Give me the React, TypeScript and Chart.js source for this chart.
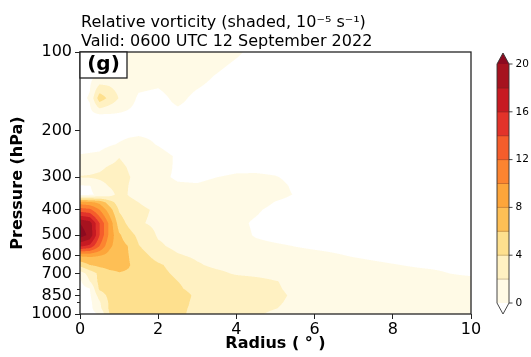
import React, { useEffect, useRef } from 'react';
import { Chart, registerables } from 'chart.js';

Chart.register(...registerables);

// ---------- data ----------
const RADII = [0, 0.25, 0.5, 0.75, 1, 1.25, 1.5, 2, 2.5, 3, 3.5, 4, 4.5, 5, 5.5, 6, 7, 8, 9, 10];
const PRESSURES = [100, 125, 150, 175, 200, 225, 250, 275, 300, 325, 350, 375, 400, 450, 500, 550, 600, 650, 700, 750, 800, 850, 900, 950, 1000];
// relative vorticity (1e-5 s^-1), one row per pressure level, one column per radius
const VORTICITY = [
  [-1, -1, -0.8, -0.5, -0.2, 0.5, 1, 1, 1, 1, 1, 0.3, -0.6, -1, -1, -1, -1, -1, -1, -1], // 100
  [-1, -0.4, 0.5, 1, 1, 1, 0.8, 0.6, 1, 0.6, -0.2, -1, -1, -1, -1, -1, -1, -1, -1, -1], // 125
  [-0.5, 0.2, 5.2, 3.5, 1.9, 0.8, -0.3, -0.6, 0.5, -0.5, -1, -1, -1, -1, -1, -1, -1, -1, -1, -1], // 150
  [-1, -0.6, -0.5, -0.4, -0.4, -0.5, -0.7, -0.8, -0.6, -0.8, -1, -1, -1, -1, -1, -1, -1, -1, -1, -1], // 175
  [-1, -0.9, -0.8, -0.6, -0.5, -0.4, -0.3, -0.3, -0.8, -1, -1, -1, -1, -1, -1, -1, -1, -1, -1, -1], // 200
  [-0.7, -0.6, -0.5, -0.2, 0.1, 0.4, 0.5, -0.1, -0.8, -1, -1, -1, -1, -1, -1, -1, -1, -1, -1, -1], // 225
  [0.15, 0.25, 0.35, 1.0, 1.9, 1.2, 1.0, 0.6, -0.2, -1, -1, -1, -1, -1, -1, -1, -1, -1, -1, -1], // 250
  [1.2, 1.3, 1.6, 2.2, 2.6, 1.8, 1.3, 0.8, -0.3, -0.8, -0.8, -0.5, -0.5, -0.6, -0.9, -1, -1, -1, -1, -1], // 275
  [2.1, 2.2, 2.4, 2.8, 3.0, 2.1, 1.4, 0.5, -0.3, -0.4, -0.02, 0.3, 0.35, 0.1, -0.5, -1, -1, -1, -1, -1], // 300
  [-0.2, -0.1, 1.1, 2.1, 2.8, 1.95, 1.4, 0.9, 0.3, 0.2, 0.6, 0.8, 0.9, 0.6, -0.3, -1, -1, -1, -1, -1], // 325
  [-0.5, -0.3, 0.4, 1.2, 2.6, 1.9, 1.5, 1.2, 1.0, 0.9, 0.9, 1.0, 0.9, 0.6, -0.1, -0.8, -1, -1, -1, -1], // 350
  [9, 8.5, 7.5, 5, 3.0, 2.4, 2.0, 1.2, 0.8, 0.7, 0.8, 0.9, 0.9, -0.1, -0.6, -1, -1, -1, -1, -1], // 375
  [13, 12.5, 10, 7, 3.8, 2.8, 2.4, 1.7, 1.1, 0.9, 0.9, 0.7, 0.3, -0.6, -1, -1, -1, -1, -1, -1], // 400
  [20, 19, 14, 9.5, 5, 3.5, 2.2, 1.6, 1.2, 1.0, 0.8, 0.5, -0.3, -1, -1, -1, -1, -1, -1, -1], // 450
  [21, 19.5, 14, 9.5, 6.3, 4.8, 3.5, 1.8, 1.5, 1.3, 1.1, 0.8, -0.2, -0.7, -1, -1, -1, -1, -1, -1], // 500
  [16.5, 15.5, 12, 8.5, 6.8, 5.9, 4.1, 2.3, 1.5, 1.3, 1.1, 0.9, 0.6, 0.3, -0.05, -0.3, -0.6, -0.8, -0.9, -1], // 550
  [8.2, 8.3, 8.0, 7.2, 6.6, 6.0, 5.0, 3.2, 2.2, 1.7, 1.5, 1.3, 1.2, 1.0, 0.7, 0.5, -0.1, -0.6, -0.8, -0.9], // 600
  [4.6, 6.0, 6.5, 6.7, 6.6, 6.1, 5.4, 4.3, 3.2, 2.2, 1.6, 1.4, 1.3, 1.2, 1.1, 0.9, 0.6, 0.1, -0.4, -0.7], // 650
  [1.0, 2.8, 4.5, 5.5, 5.9, 5.8, 5.5, 4.6, 3.6, 2.9, 2.4, 1.8, 1.6, 1.4, 1.3, 1.2, 1.0, 0.7, 0.4, -0.5], // 700
  [-0.3, 2.0, 4.6, 5.3, 5.6, 5.7, 5.6, 5.0, 4.0, 3.5, 3.1, 2.8, 2.5, 2.05, 1.7, 1.5, 1.3, 1.2, 1.1, 1.0], // 750
  [-0.8, -0.05, 4.4, 5.0, 5.3, 5.5, 5.4, 5.0, 4.2, 3.5, 3.1, 2.8, 2.6, 2.15, 1.7, 1.5, 1.25, 1.15, 1.05, 1.0], // 800
  [-1, -0.3, 2.8, 4.6, 5.1, 5.3, 5.4, 5.2, 4.7, 3.7, 3.2, 2.9, 2.6, 2.3, 1.8, 1.5, 1.2, 1.1, 1.0, 0.95], // 850
  [-1, -0.5, 1.8, 4.3, 4.9, 5.2, 5.3, 5.2, 4.6, 3.6, 3.1, 2.8, 2.5, 2.2, 1.7, 1.4, 1.2, 1.1, 1.0, 0.9], // 900
  [-1, -0.6, 1.5, 4.3, 4.8, 5.0, 5.1, 5.0, 4.3, 3.7, 3.1, 2.7, 2.4, 2.05, 1.6, 1.3, 1.1, 1.0, 0.9, 0.85], // 950
  [-1, -0.7, 0.2, 3.95, 4.6, 4.8, 4.9, 4.7, 4.3, 3.6, 3.0, 2.6, 2.2, 1.7, 1.4, 1.2, 1.0, 0.9, 0.8, 0.7], // 1000
];

const LEVELS = [0, 2, 4, 6, 8, 10, 12, 14, 16, 18, 20];
const LEVEL_COLORS = ['#fffae6', '#fff1c2', '#fee08e', '#febf55', '#fda53a', '#fc8430', '#f55d2b', '#e2332a', '#c71a22', '#a6131f'];
const OVER_COLOR = '#8c0a1f';
const X_TICKS = [0, 2, 4, 6, 8, 10];
const Y_TICKS = [100, 200, 300, 400, 500, 600, 700, 850, 1000];
const Y_MINOR_TICKS = [800, 900];
const CBAR_TICKS = [0, 4, 8, 12, 16, 20];
const TITLE_LINES = ['Relative vorticity (shaded, 10\u207B\u2075 s\u207B\u00B9)', 'Valid: 0600 UTC 12 September 2022'];
const PANEL_LABEL = '(g)';
const X_TITLE = 'Radius ( \u00B0 )';
const Y_TITLE = 'Pressure (hPa)';

const FONT = "'DejaVu Sans', sans-serif";

function hexToRgb(h: string): number[] {
  const n = parseInt(h.slice(1), 16);
  return [(n >> 16) & 255, (n >> 8) & 255, n & 255];
}
const LEVEL_RGB = LEVEL_COLORS.map(hexToRgb);
const OVER_RGB = hexToRgb(OVER_COLOR);

function colorOf(v: number): number[] {
  if (v < LEVELS[0]) return [255, 255, 255];
  for (let k = 0; k < LEVELS.length - 1; k++) {
    if (v < LEVELS[k + 1]) return LEVEL_RGB[k];
  }
  return OVER_RGB;
}

function locate(arr: number[], v: number): [number, number] {
  let i = 0;
  while (i < arr.length - 2 && arr[i + 1] < v) i++;
  let t = (v - arr[i]) / (arr[i + 1] - arr[i]);
  t = Math.max(0, Math.min(1, t));
  return [i, t];
}

const shadingPlugin = {
  id: 'shading',
  beforeDatasetsDraw(chart: any) {
    const { ctx, chartArea, scales } = chart;
    const xs = scales.x;
    const ys = scales.y;
    const left = Math.round(chartArea.left);
    const top = Math.round(chartArea.top);
    const w = Math.round(chartArea.right) - left;
    const h = Math.round(chartArea.bottom) - top;
    const S = 3;
    const colLoc: [number, number][] = [];
    for (let c = 0; c < w * S; c++) {
      const r = xs.getValueForPixel(left + (c + 0.5) / S);
      colLoc.push(locate(RADII, r));
    }
    const rowLoc: [number, number][] = [];
    for (let q = 0; q < h * S; q++) {
      const p = ys.getValueForPixel(top + (q + 0.5) / S);
      rowLoc.push(locate(PRESSURES, p));
    }
    const img = ctx.createImageData(w, h);
    const d = img.data;
    for (let py = 0; py < h; py++) {
      for (let px = 0; px < w; px++) {
        let R = 0, G = 0, B = 0;
        for (let sy = 0; sy < S; sy++) {
          const [j, tp] = rowLoc[py * S + sy];
          const row0 = VORTICITY[j];
          const row1 = VORTICITY[j + 1];
          for (let sx = 0; sx < S; sx++) {
            const [i, tr] = colLoc[px * S + sx];
            const a = row0[i] * (1 - tr) + row0[i + 1] * tr;
            const b = row1[i] * (1 - tr) + row1[i + 1] * tr;
            const v = a * (1 - tp) + b * tp;
            const col = colorOf(v);
            R += col[0]; G += col[1]; B += col[2];
          }
        }
        const n = S * S;
        const o = (py * w + px) * 4;
        d[o] = R / n; d[o + 1] = G / n; d[o + 2] = B / n; d[o + 3] = 255;
      }
    }
    ctx.putImageData(img, left, top);
  },
  afterDraw(chart: any) {
    const { ctx, chartArea, scales } = chart;
    const { left, top, right, bottom } = chartArea;
    ctx.save();
    // minor ticks on the pressure axis
    ctx.strokeStyle = '#222';
    ctx.lineWidth = 1;
    Y_MINOR_TICKS.forEach((v) => {
      const y = Math.round(scales.y.getPixelForValue(v)) + 0.5;
      ctx.beginPath();
      ctx.moveTo(left - 3, y);
      ctx.lineTo(left, y);
      ctx.stroke();
    });
    // frame
    ctx.strokeStyle = '#262626';
    ctx.lineWidth = 1.3;
    ctx.strokeRect(left, top, right - left, bottom - top);

    // titles
    ctx.fillStyle = '#000';
    ctx.font = `16px ${FONT}`;
    ctx.textAlign = 'left';
    ctx.textBaseline = 'alphabetic';
    ctx.fillText(TITLE_LINES[0], left + 1, 27);
    ctx.fillText(TITLE_LINES[1], left + 1, 46);

    // panel label
    ctx.fillStyle = '#fff';
    ctx.fillRect(left, top, 47, 26);
    ctx.strokeStyle = '#222';
    ctx.lineWidth = 1.3;
    ctx.strokeRect(left, top, 47, 26);
    ctx.fillStyle = '#000';
    ctx.font = `bold 20px ${FONT}`;
    ctx.textAlign = 'center';
    ctx.textBaseline = 'middle';
    ctx.fillText(PANEL_LABEL, left + 23.5, top + 13);

    // colour bar
    const cx0 = right + 26;
    const cx1 = right + 38;
    const cyTop = top + 12;
    const cyBot = bottom - 11;
    const tri = 11;
    const nb = LEVELS.length - 1;
    const bh = (cyBot - cyTop) / nb;
    for (let k = 0; k < nb; k++) {
      const y1 = cyBot - (k + 1) * bh;
      ctx.fillStyle = LEVEL_COLORS[k];
      ctx.fillRect(cx0, y1, cx1 - cx0, bh + 0.5);
    }
    ctx.fillStyle = OVER_COLOR;
    ctx.beginPath();
    ctx.moveTo(cx0, cyTop);
    ctx.lineTo((cx0 + cx1) / 2, cyTop - tri);
    ctx.lineTo(cx1, cyTop);
    ctx.closePath();
    ctx.fill();
    ctx.fillStyle = '#fff';
    ctx.beginPath();
    ctx.moveTo(cx0, cyBot);
    ctx.lineTo((cx0 + cx1) / 2, cyBot + tri);
    ctx.lineTo(cx1, cyBot);
    ctx.closePath();
    ctx.fill();
    // band separators
    ctx.strokeStyle = 'rgba(80,60,40,0.35)';
    ctx.lineWidth = 0.8;
    for (let k = 1; k < nb; k++) {
      const y = cyBot - k * bh;
      ctx.beginPath();
      ctx.moveTo(cx0, y);
      ctx.lineTo(cx1, y);
      ctx.stroke();
    }
    // outline
    ctx.strokeStyle = '#333';
    ctx.lineWidth = 0.9;
    ctx.beginPath();
    ctx.moveTo(cx0, cyTop);
    ctx.lineTo((cx0 + cx1) / 2, cyTop - tri);
    ctx.lineTo(cx1, cyTop);
    ctx.lineTo(cx1, cyBot);
    ctx.lineTo((cx0 + cx1) / 2, cyBot + tri);
    ctx.lineTo(cx0, cyBot);
    ctx.closePath();
    ctx.stroke();
    // colour bar ticks
    ctx.fillStyle = '#000';
    ctx.font = `10.5px ${FONT}`;
    ctx.textAlign = 'left';
    ctx.textBaseline = 'middle';
    CBAR_TICKS.forEach((v) => {
      const y = cyBot - ((v - LEVELS[0]) / (LEVELS[nb] - LEVELS[0])) * (cyBot - cyTop);
      ctx.beginPath();
      ctx.moveTo(cx1, y);
      ctx.lineTo(cx1 + 3.5, y);
      ctx.stroke();
      ctx.fillText(String(v), cx1 + 6.5, y);
    });
    ctx.restore();
  },
};

export default function App() {
  const ref = useRef<HTMLCanvasElement>(null);
  useEffect(() => {
    if (!ref.current) return;
    Chart.defaults.font.family = FONT;
    const chart = new Chart(ref.current, {
      type: 'scatter',
      data: { datasets: [{ data: [], pointRadius: 0 }] },
      options: {
        animation: false,
        responsive: false,
        devicePixelRatio: 1,
        layout: { padding: { left: 0, top: 52, right: 60, bottom: 0 } },
        plugins: { legend: { display: false }, tooltip: { enabled: false }, title: { display: false } },
        scales: {
          x: {
            type: 'linear',
            min: 0,
            max: 10,
            afterFit: (s: any) => { s.height = 43; },
            afterBuildTicks: (s: any) => { s.ticks = X_TICKS.map((v) => ({ value: v })); },
            border: { display: false },
            grid: { display: true, drawOnChartArea: false, drawTicks: true, tickLength: 5, color: '#222', lineWidth: 1 },
            ticks: { autoSkip: false, maxRotation: 0, color: '#000', font: { size: 16, family: FONT }, padding: 1, callback: (v: any) => String(v) },
            title: { display: true, text: X_TITLE, color: '#000', font: { size: 16, weight: 'bold', family: FONT }, padding: { top: 0, bottom: 4 } },
          },
          y: {
            type: 'logarithmic',
            reverse: true,
            min: 100,
            max: 1000,
            afterFit: (s: any) => { s.width = 80; },
            afterBuildTicks: (s: any) => { s.ticks = Y_TICKS.map((v) => ({ value: v })); },
            border: { display: false },
            grid: { display: true, drawOnChartArea: false, drawTicks: true, tickLength: 5, color: '#222', lineWidth: 1 },
            ticks: { autoSkip: false, color: '#000', font: { size: 16, family: FONT }, padding: 3, callback: (v: any) => String(v) },
            title: { display: true, text: Y_TITLE, color: '#000', font: { size: 16, weight: 'bold', family: FONT }, padding: { top: 8, bottom: 0 } },
          },
        },
      },
      plugins: [shadingPlugin],
    } as any);
    return () => chart.destroy();
  }, []);
  return (
    <div style={{ position: 'fixed', left: 0, top: 0, width: 531, height: 357, background: '#fff' }}>
      <canvas ref={ref} width={531} height={357} style={{ display: 'block', width: 531, height: 357 }} />
    </div>
  );
}
